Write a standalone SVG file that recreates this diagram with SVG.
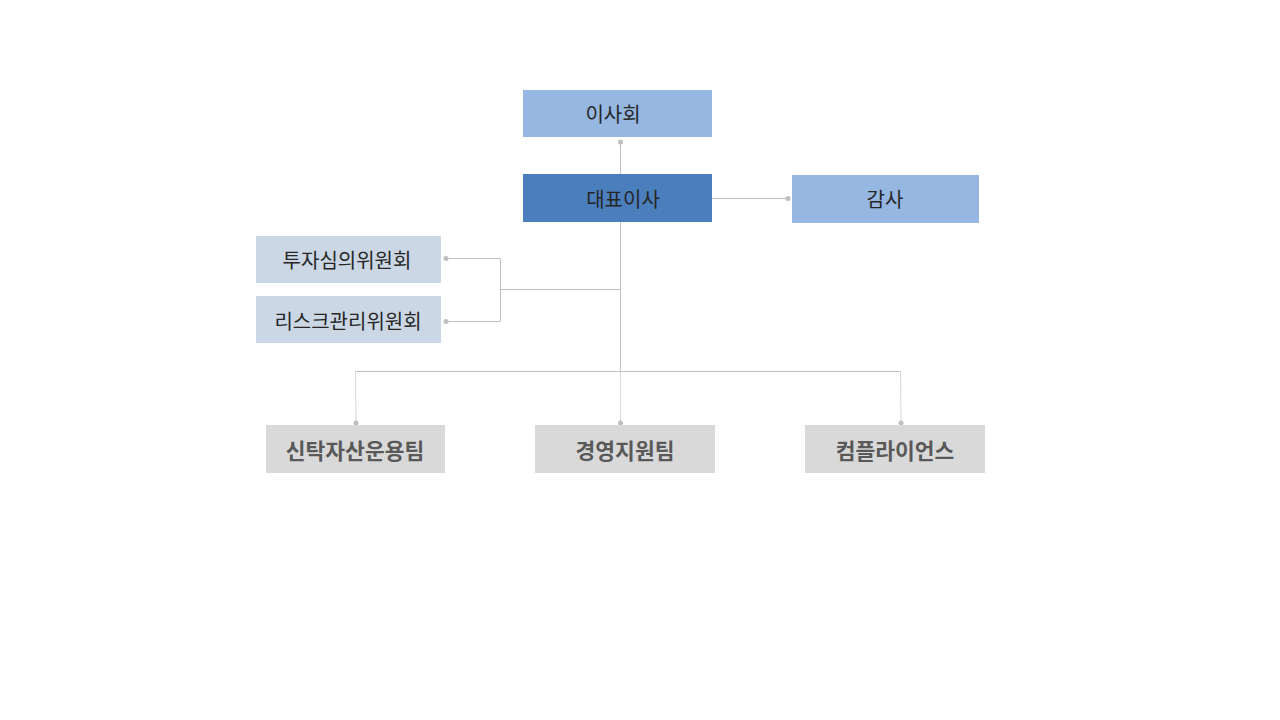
<svg xmlns="http://www.w3.org/2000/svg" width="1280" height="720" viewBox="0 0 1280 720">
<defs>
<style>
.t{font-family:"Noto Sans CJK KR","Noto Sans",sans-serif;font-size:20px;fill:#262626;text-anchor:middle;dominant-baseline:central}
.b{font-weight:bold;fill:#595959;font-size:21.5px}
.ln{stroke:#BFBFBF;stroke-width:1;fill:none}
.lt{stroke:#D9D9D9;stroke-width:1;fill:none}
.dot{fill:#BFBFBF}
</style>
</defs>
<rect width="1280" height="720" fill="#FFFFFF"/>
<g id="connectors">
<path class="ln" d="M620.5 174V142"/>
<circle class="dot" cx="620.5" cy="142" r="2.5"/>
<path class="ln" d="M712 198.5H788"/>
<circle class="dot" cx="788" cy="198.5" r="2.5"/>
<path class="ln" d="M620.5 222V371"/>
<path class="ln" d="M620.5 289.5H500.5V258.5H446M500.5 289.5V321.5H446"/>
<circle class="dot" cx="446" cy="258.5" r="2.5"/>
<circle class="dot" cx="446" cy="321.5" r="2.5"/>
<path class="ln" d="M355.5 371.5H900.5"/>
<path class="lt" d="M355.5 371.5L356 423M620.5 371.5V423M900.5 371.5L901 423"/>
<circle class="dot" cx="356" cy="423" r="2.5" fill="#D9D9D9"/>
<circle class="dot" cx="620.5" cy="423" r="2.5" fill="#D9D9D9"/>
<circle class="dot" cx="901" cy="423" r="2.5" fill="#D9D9D9"/>
</g>
<g id="board"><rect x="523" y="90" width="189" height="47" fill="#95B7E1"/><text class="t" x="613" y="113">이사회</text></g>
<g id="ceo"><rect x="523" y="174" width="189" height="48" fill="#4A7EBD"/><text class="t" x="623" y="198">대표이사</text></g>
<g id="audit"><rect x="792" y="175" width="187" height="48" fill="#95B7E1"/><text class="t" x="885" y="198">감사</text></g>
<g id="invest"><rect x="256" y="236" width="185" height="47" fill="#CBD7E4"/><text class="t" x="347" y="259">투자심의위원회</text></g>
<g id="risk"><rect x="256" y="296" width="185" height="47" fill="#CBD7E4"/><text class="t" x="348" y="320">리스크관리위원회</text></g>
<g id="trust"><rect x="266" y="425" width="179" height="48" fill="#D9D9D9"/><text class="t b" x="355" y="449">신탁자산운용팀</text></g>
<g id="mgmt"><rect x="535" y="425" width="180" height="48" fill="#D9D9D9"/><text class="t b" x="625" y="449">경영지원팀</text></g>
<g id="compliance"><rect x="805" y="425" width="180" height="48" fill="#D9D9D9"/><text class="t b" x="895" y="449">컴플라이언스</text></g>
</svg>
